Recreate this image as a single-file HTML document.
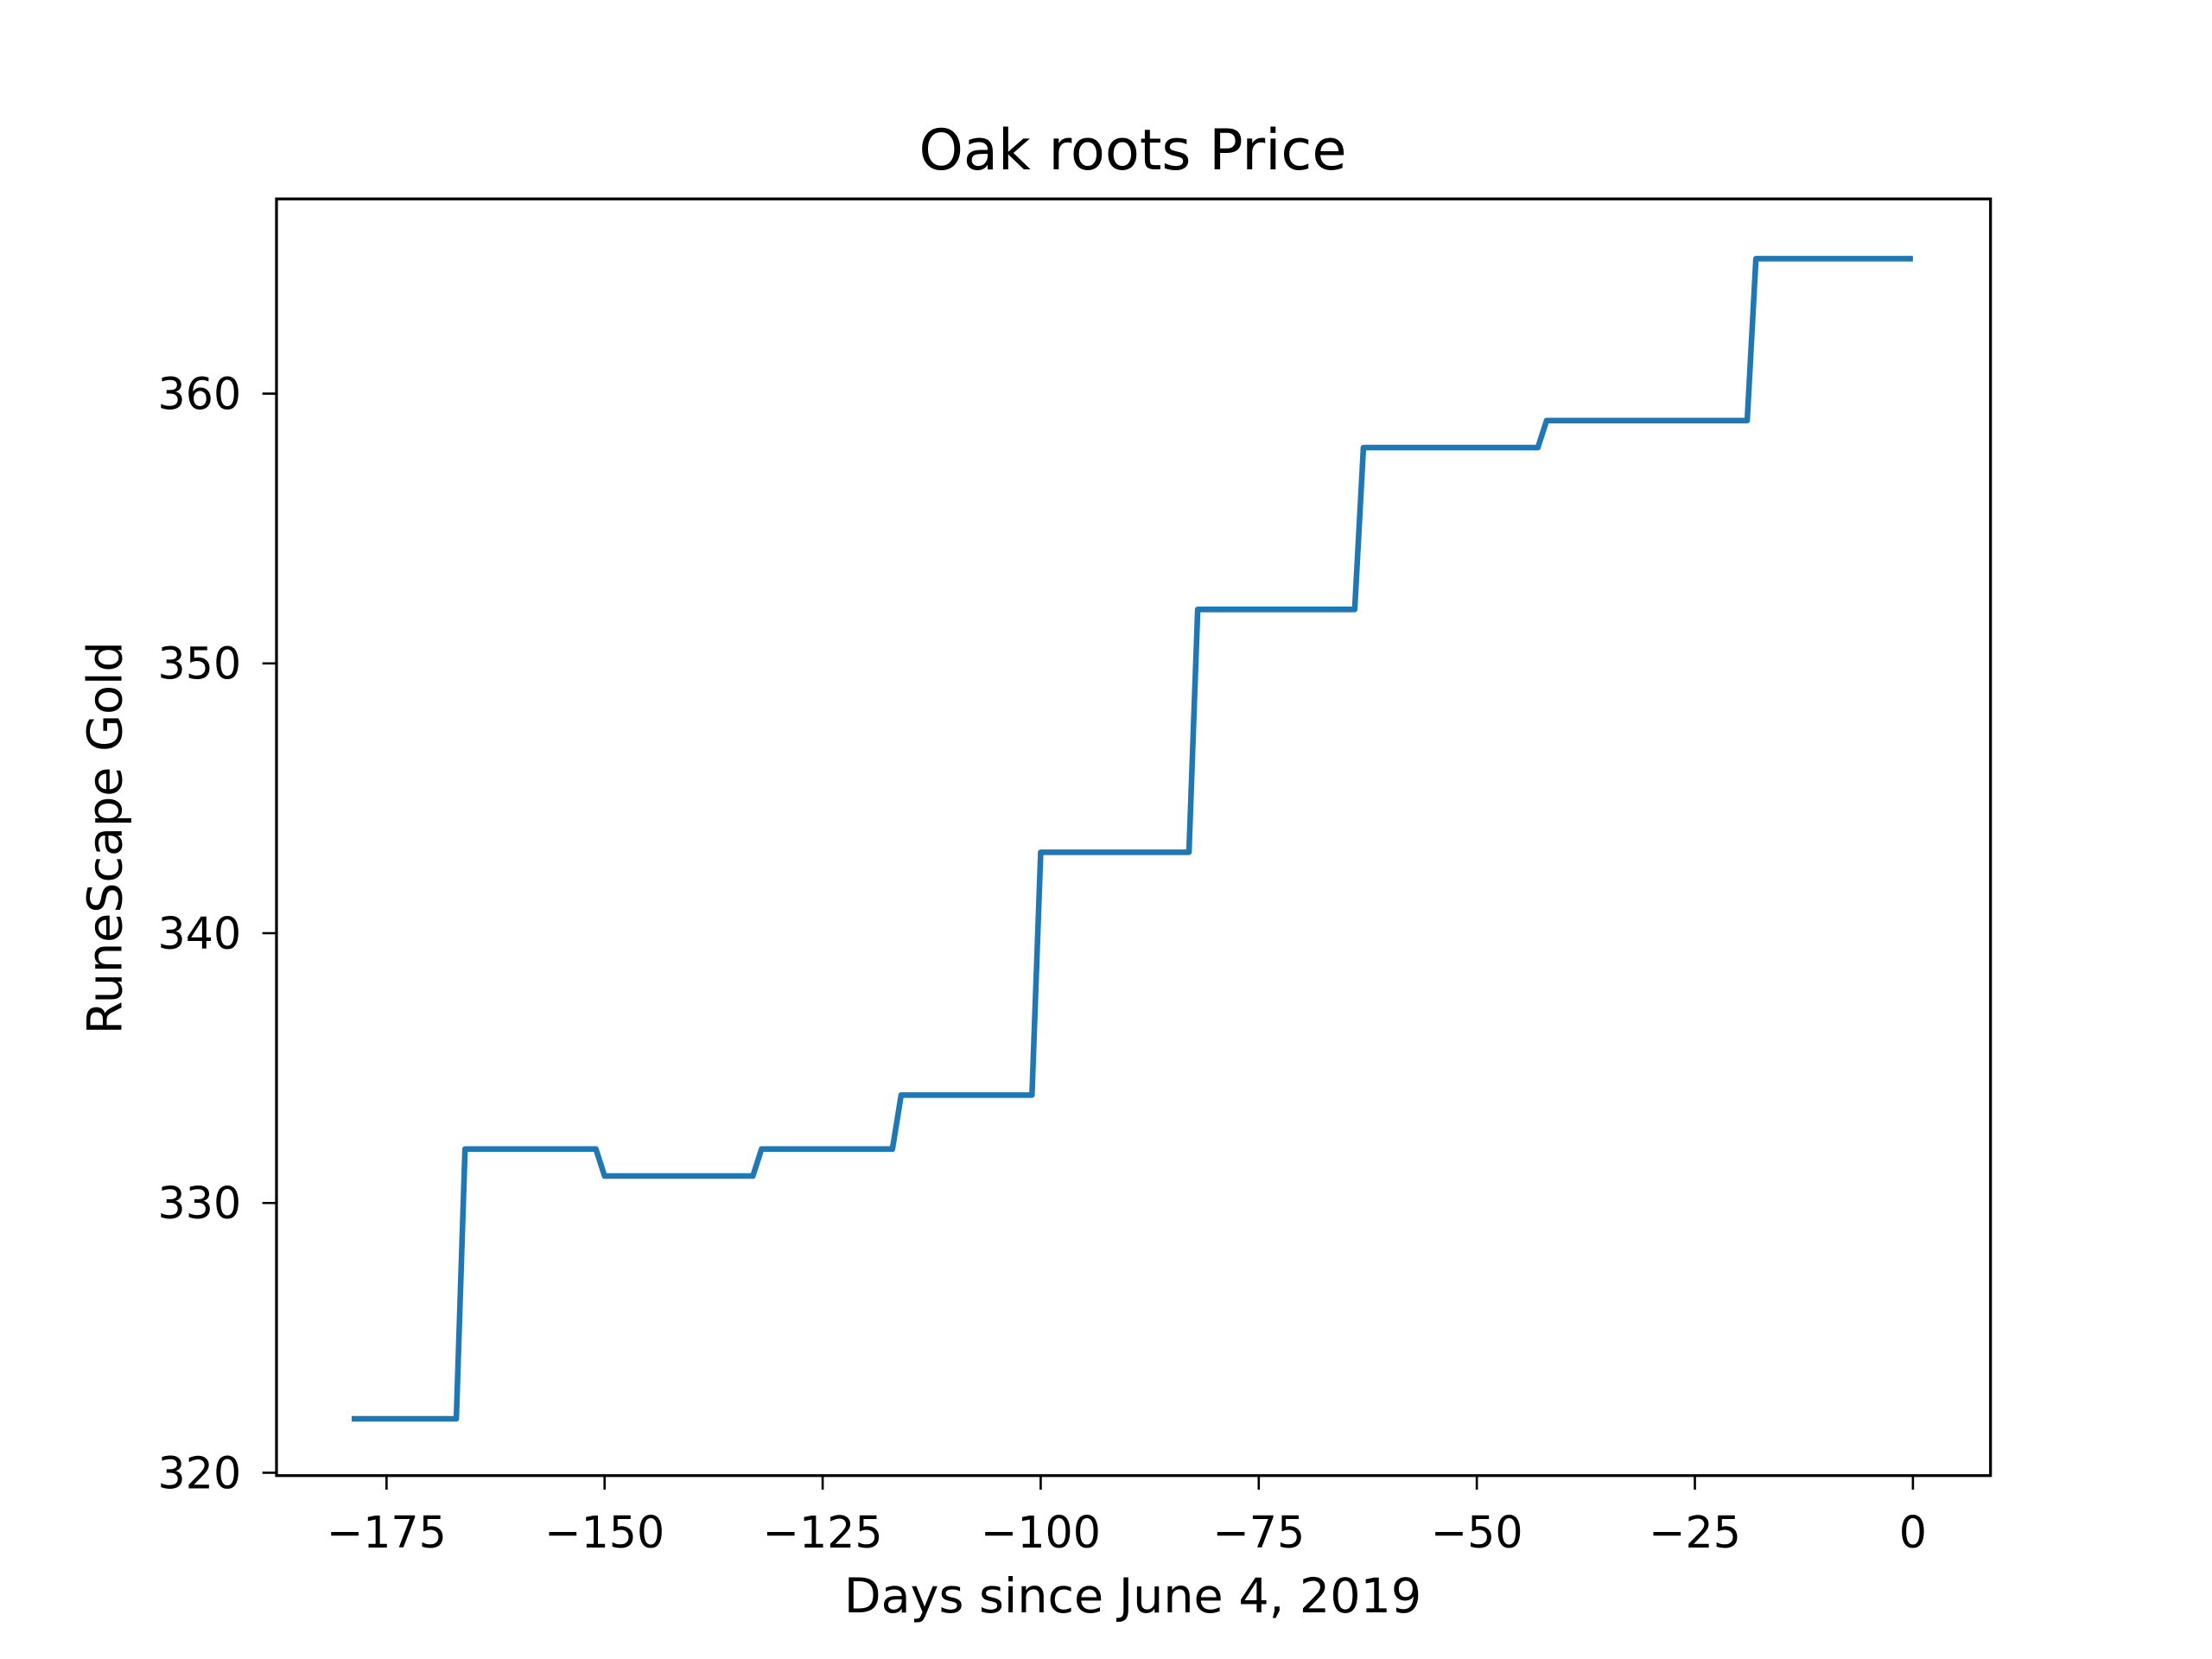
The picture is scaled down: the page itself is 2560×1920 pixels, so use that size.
<!DOCTYPE html>
<html>
<head>
<meta charset="utf-8">
<style>
html,body{margin:0;padding:0;background:#fff;}
svg{display:block;}
text{font-family:"DejaVu Sans","Liberation Sans",sans-serif;fill:#000;}
</style>
</head>
<body>
<svg id="chart" width="2560" height="1920" viewBox="0 0 1568 1176" xmlns="http://www.w3.org/2000/svg">
  <rect width="1568" height="1176" fill="#fff"/>
  <text x="803" y="120" font-size="40" text-anchor="middle">Oak roots Price</text>
  <text x="803" y="1143" font-size="34" text-anchor="middle">Days since June 4, 2019</text>
  <text transform="translate(86,594) rotate(-90)" font-size="34" text-anchor="middle">RuneScape Gold</text>
  <g id="plot"></g>
  <rect x="196" y="141" width="1215" height="905" fill="none" stroke="#000" stroke-width="2"/>
</svg>
<script>
const days = [-179,-167,-166,-151,-150,-133,-132,-117,-116,-101,-100,-83,-82,-64,-63,-43,-42,-19,-18,0];
const prices = [322,322,332,332,331,331,332,332,334,334,343,343,352,352,358,358,359,359,365,365];
const xTicks = [-175,-150,-125,-100,-75,-50,-25,0];
const yTicks = [320,330,340,350,360];

const NS = "http://www.w3.org/2000/svg";
const plot = document.getElementById('plot');
function xs(v){ return 1356 + v * (1082/175); }
function ys(v){ return 1044 - (v - 320) * (765/40); }

xTicks.forEach(t => {
  const l = document.createElementNS(NS,'line');
  
  
  l.setAttribute('x1', xs(t)); l.setAttribute('x2', xs(t));
  l.setAttribute('y1', 1046); l.setAttribute('y2', 1056);
  l.setAttribute('stroke', '#000'); l.setAttribute('stroke-width', '1.6');
  plot.appendChild(l);
  const tx = document.createElementNS(NS,'text');
  
  
  tx.setAttribute('x', xs(t)); tx.setAttribute('y', 1097);
  tx.setAttribute('font-size', '31'); tx.setAttribute('text-anchor', 'middle');
  tx.textContent = t < 0 ? '\u2212' + Math.abs(t) : String(t);
  plot.appendChild(tx);
});
yTicks.forEach(t => {
  const l = document.createElementNS(NS,'line');
  
  
  l.setAttribute('x1', 186); l.setAttribute('x2', 196);
  l.setAttribute('y1', ys(t)); l.setAttribute('y2', ys(t));
  l.setAttribute('stroke', '#000'); l.setAttribute('stroke-width', '1.6');
  plot.appendChild(l);
  const tx = document.createElementNS(NS,'text');
  
  
  tx.setAttribute('x', 171); tx.setAttribute('y', ys(t) + 11);
  tx.setAttribute('font-size', '31'); tx.setAttribute('text-anchor', 'end');
  tx.textContent = String(t);
  plot.appendChild(tx);
});
const pts = days.map((d,i) => xs(d).toFixed(2) + ',' + ys(prices[i]).toFixed(2)).join(' ');
const pl = document.createElementNS(NS,'polyline');


pl.setAttribute('points', pts);
pl.setAttribute('fill', 'none');
pl.setAttribute('stroke', '#1f77b4');
pl.setAttribute('stroke-width', '4');
pl.setAttribute('stroke-linejoin', 'round');
pl.setAttribute('stroke-linecap', 'butt');
plot.appendChild(pl);
</script>
</body>
</html>
